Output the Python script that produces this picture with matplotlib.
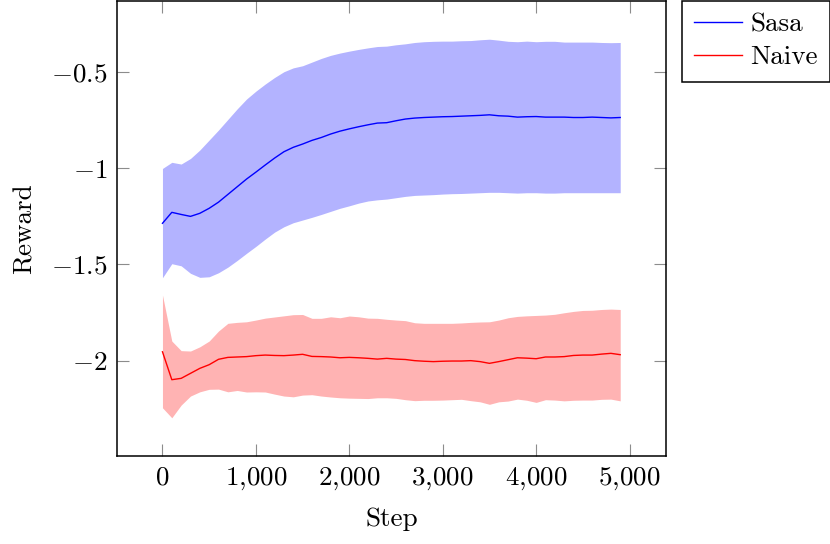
"""Reward vs step: Sasa vs Naive, mean line + band."""
import matplotlib
matplotlib.use("Agg")
import matplotlib.pyplot as plt
import numpy as np
from matplotlib.ticker import FuncFormatter

plt.rcParams["font.family"] = ["cmr10", "DejaVu Serif"]
plt.rcParams["mathtext.fontset"] = "cm"
plt.rcParams["axes.unicode_minus"] = False
plt.rcParams["font.size"] = 19.5

steps = np.arange(0, 5000, 100)

sasa_mean = [
    -1.286, -1.229, -1.240, -1.250, -1.234, -1.208, -1.176, -1.136, -1.096, -1.056,
    -1.020, -0.983, -0.947, -0.914, -0.891, -0.874, -0.855, -0.840, -0.822, -0.807,
    -0.795, -0.784, -0.774, -0.765, -0.763, -0.753, -0.744, -0.739, -0.736, -0.734,
    -0.732, -0.731, -0.729, -0.727, -0.725, -0.722, -0.727, -0.729, -0.734, -0.732,
    -0.731, -0.734, -0.734, -0.734, -0.736, -0.736, -0.734, -0.736, -0.738, -0.736,
]
sasa_upper = [
    -1.001, -0.969, -0.978, -0.949, -0.905, -0.853, -0.801, -0.746, -0.691, -0.640,
    -0.599, -0.562, -0.528, -0.498, -0.478, -0.467, -0.448, -0.429, -0.413, -0.401,
    -0.391, -0.382, -0.374, -0.367, -0.365, -0.358, -0.353, -0.346, -0.342, -0.340,
    -0.339, -0.339, -0.337, -0.336, -0.332, -0.329, -0.334, -0.340, -0.342, -0.339,
    -0.342, -0.340, -0.340, -0.344, -0.344, -0.344, -0.344, -0.346, -0.347, -0.346,
]
sasa_lower = [
    -1.569, -1.496, -1.507, -1.546, -1.567, -1.564, -1.543, -1.514, -1.479, -1.442,
    -1.406, -1.368, -1.332, -1.304, -1.283, -1.269, -1.255, -1.240, -1.224, -1.208,
    -1.195, -1.181, -1.170, -1.164, -1.160, -1.153, -1.146, -1.141, -1.139, -1.137,
    -1.134, -1.132, -1.131, -1.129, -1.127, -1.125, -1.125, -1.127, -1.129, -1.127,
    -1.127, -1.129, -1.129, -1.127, -1.127, -1.127, -1.127, -1.127, -1.127, -1.127,
]

naive_mean = [
    -1.954, -2.099, -2.092, -2.066, -2.040, -2.021, -1.993, -1.983, -1.981, -1.979,
    -1.974, -1.971, -1.973, -1.974, -1.971, -1.967, -1.978, -1.979, -1.981, -1.985,
    -1.983, -1.985, -1.988, -1.992, -1.988, -1.992, -1.994, -2.000, -2.003, -2.005,
    -2.003, -2.002, -2.002, -2.000, -2.005, -2.014, -2.005, -1.995, -1.985, -1.987,
    -1.990, -1.981, -1.981, -1.979, -1.973, -1.971, -1.971, -1.966, -1.962, -1.969,
]
naive_upper = [
    -1.659, -1.898, -1.948, -1.950, -1.928, -1.898, -1.846, -1.806, -1.801, -1.798,
    -1.789, -1.779, -1.773, -1.767, -1.761, -1.760, -1.780, -1.780, -1.772, -1.777,
    -1.768, -1.772, -1.779, -1.780, -1.785, -1.789, -1.792, -1.803, -1.806, -1.806,
    -1.806, -1.806, -1.804, -1.801, -1.799, -1.798, -1.789, -1.777, -1.770, -1.767,
    -1.765, -1.763, -1.759, -1.751, -1.744, -1.739, -1.738, -1.734, -1.732, -1.734,
]
naive_lower = [
    -2.245, -2.297, -2.231, -2.184, -2.162, -2.149, -2.148, -2.162, -2.155, -2.163,
    -2.162, -2.163, -2.174, -2.184, -2.188, -2.179, -2.177, -2.184, -2.189, -2.193,
    -2.195, -2.196, -2.197, -2.193, -2.193, -2.196, -2.203, -2.208, -2.206, -2.206,
    -2.205, -2.203, -2.201, -2.208, -2.214, -2.227, -2.214, -2.210, -2.200, -2.206,
    -2.217, -2.203, -2.205, -2.209, -2.206, -2.205, -2.205, -2.201, -2.200, -2.209,
]


def fmt_num(v, pos):
    if abs(v - round(v)) < 1e-9:
        s = f"{int(round(v)):,}".replace(",", "{,}")
    else:
        s = f"{v:g}"
    return f"${s}$"


fig = plt.figure(figsize=(8.3, 5.44), dpi=100)
ax = fig.add_axes([0.1406, 0.162, 0.6618, 0.837])

ax.fill_between(steps, sasa_lower, sasa_upper, color=(0.7, 0.7, 1.0), lw=0)
ax.fill_between(steps, naive_lower, naive_upper, color=(1.0, 0.7, 0.7), lw=0)
ax.plot(steps, sasa_mean, color="blue", lw=1.0, label="Sasa")
ax.plot(steps, naive_mean, color="red", lw=1.0, label="Naive")

ax.set_xlim(-490, 5390)
ax.set_ylim(-2.495, -0.128)
ax.set_xticks([0, 1000, 2000, 3000, 4000, 5000])
ax.set_yticks([-2, -1.5, -1, -0.5])
ax.xaxis.set_major_formatter(FuncFormatter(fmt_num))
ax.yaxis.set_major_formatter(FuncFormatter(fmt_num))
ax.tick_params(direction="in", length=8.6, width=0.8, color="#8c8c8c",
               top=True, right=True)
ax.tick_params(axis="x", pad=7)
ax.tick_params(axis="y", pad=7)
for sp in ax.spines.values():
    sp.set_linewidth(1.1)

ax.set_xlabel("Step", labelpad=11)
ax.set_ylabel("Reward", labelpad=10)

leg = ax.legend(loc="upper left", bbox_to_anchor=(1.029, 1.0), borderaxespad=0,
                frameon=True, fancybox=False, framealpha=1, edgecolor="black",
                handlelength=1.78, handletextpad=0.3, labelspacing=0.32,
                borderpad=0.45)
leg.get_frame().set_linewidth(1.1)
for line in leg.get_lines():
    line.set_linewidth(1.0)

fig.savefig("out.png", dpi=100)
